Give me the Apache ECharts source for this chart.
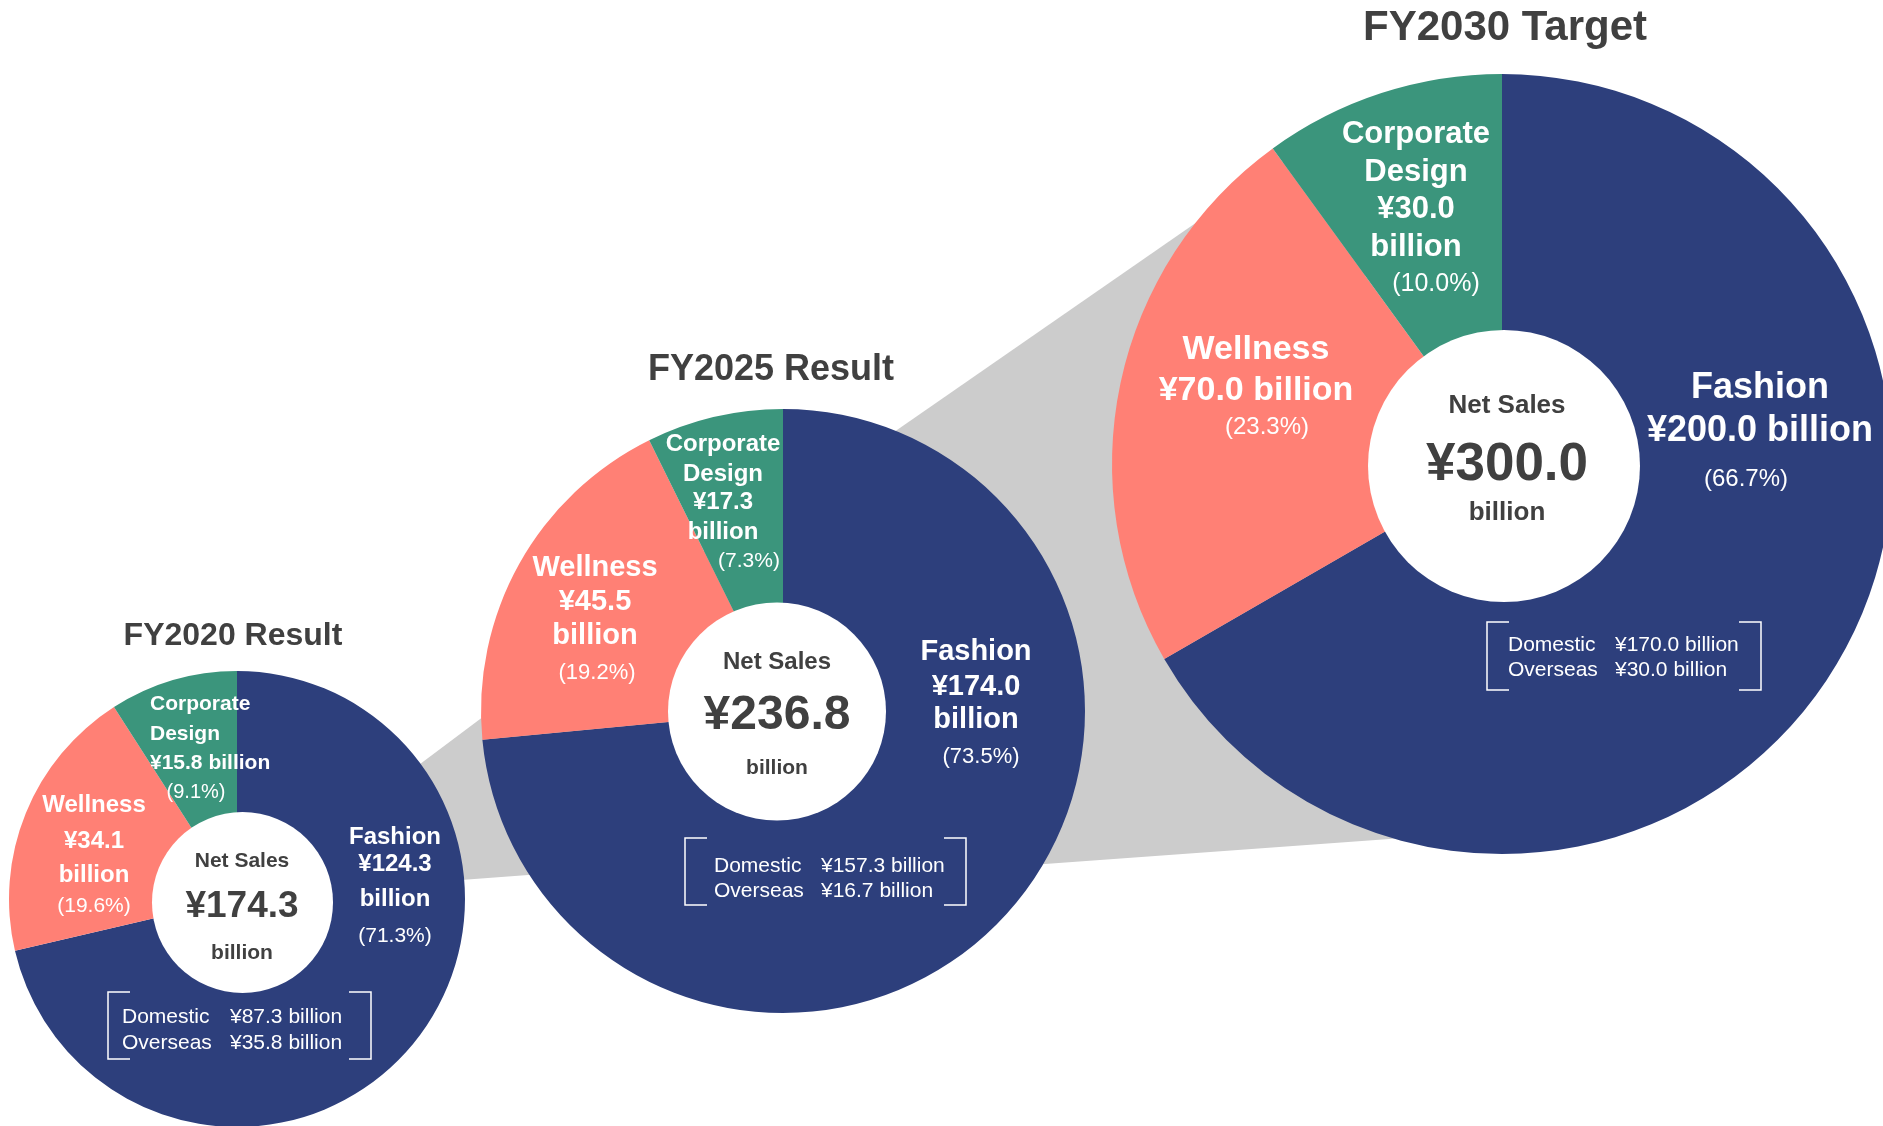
<!DOCTYPE html>
<html>
<head>
<meta charset="utf-8">
<title>Net Sales by Segment</title>
<script src="https://cdn.jsdelivr.net/npm/echarts@6.0.0/dist/echarts.min.js"></script>
<style>
  html, body { margin: 0; padding: 0; background: #fff; }
  #main { width: 1883px; height: 1126px; }
</style>
</head>
<body>
<div id="main"></div>
<script>
// data
const years = ['FY2020 Result', 'FY2025 Result', 'FY2030 Target'];
const segments = ['Fashion', 'Wellness', 'Corporate Design'];
const fy2020 = [124.3, 34.1, 15.8];
const fy2025 = [174.0, 45.5, 17.3];
const fy2030 = [200.0, 70.0, 30.0];
const pct2020 = [71.3, 19.6, 9.1];
const pct2025 = [73.5, 19.2, 7.3];
const pct2030 = [66.7, 23.3, 10.0];
const netSales = [174.3, 236.8, 300.0];
const domestic = [87.3, 157.3, 170.0];
const overseas = [35.8, 16.7, 30.0];

const values = [fy2020, fy2025, fy2030];
const pcts = [pct2020, pct2025, pct2030];

const colors = ['#2d3f7c', '#ff8075', '#3b957c'];
const dark = '#404040';
const gray = '#cccccc';
const font = "'Liberation Sans', Arial, Helvetica, sans-serif";

// layout of the three donuts (hole = white disc, slightly off centre like the original)
const pies = [
  { cx: 237, cy: 899, r: 228, r0: 83, hole: { x: 242.5, y: 902.5, r: 90.5 },
    title: { x: 233, y: 636, size: 32 },
    center: { x: 242, ys: [861, 907, 953], sizes: [21, 37, 21] },
    box: { l: 108, r: 371, t: 992, b: 1059, tx: 122, vx: 230, ys: [1017, 1043] } },
  { cx: 783, cy: 711, r: 302, r0: 102, hole: { x: 777, y: 711.5, r: 109 },
    title: { x: 771, y: 370, size: 36 },
    center: { x: 777, ys: [662, 716, 768], sizes: [24, 48, 21] },
    box: { l: 685, r: 966, t: 838, b: 905, tx: 714, vx: 821, ys: [866, 891] } },
  { cx: 1502, cy: 464, r: 390, r0: 132, hole: { x: 1504, y: 466, r: 136 },
    title: { x: 1505, y: 28, size: 42 },
    center: { x: 1507, ys: [406, 465, 513], sizes: [26, 53, 26] },
    box: { l: 1487, r: 1761, t: 622, b: 690, tx: 1508, vx: 1615, ys: [645, 670] } }
];

// segment label placement: fashion, wellness, corporate design
const labelPos = [
  [
    { x: 395, ys: [837, 864, 899], px: 395, py: 936, size: 24, pSize: 21 },
    { x: 94, ys: [805, 841, 875], px: 94, py: 906, size: 24, pSize: 21 },
    { x: 150, ys: [704, 734, 763], px: 196, py: 792, size: 21, pSize: 20, align: 'left', join: true }
  ],
  [
    { x: 976, ys: [652, 687, 720], px: 981, py: 757, size: 29, pSize: 22 },
    { x: 595, ys: [568, 602, 636], px: 597, py: 673, size: 29, pSize: 22 },
    { x: 723, ys: [444, 474, 502, 532], px: 749, py: 561, size: 24, pSize: 21 }
  ],
  [
    { x: 1760, ys: [388, 431], px: 1746, py: 479, size: 36, pSize: 24, join: true },
    { x: 1256, ys: [350, 391], px: 1267, py: 427, size: 34, pSize: 24, join: true },
    { x: 1416, ys: [134, 172, 209, 247], px: 1436, py: 284, size: 31, pSize: 25 }
  ]
];

// grey zoom bands between the donuts
const bands = [
  [[300, 854], [783, 492], [783, 856], [300, 892]],
  [[783, 509], [1350, 116], [1417, 837], [783, 883]]
];

function txt(x, y, s, size, weight, color, align) {
  return {
    type: 'text', x: x, y: y, z: 100, silent: true,
    style: {
      text: s, fill: color,
      font: weight + ' ' + size + 'px ' + font,
      textAlign: align || 'center', align: align || 'center',
      textVerticalAlign: 'middle', verticalAlign: 'middle'
    }
  };
}

function yen(v) { return '\u00a5' + v.toFixed(1); }

let elements = [];

bands.forEach(function (pts) {
  elements.push({ type: 'polygon', z: 0, silent: true, shape: { points: pts }, style: { fill: gray } });
});

pies.forEach(function (p, i) {
  elements.push(txt(p.title.x, p.title.y, years[i], p.title.size, 'bold', dark));

  // white centre disc
  elements.push({ type: 'circle', z: 50, silent: true,
    shape: { cx: p.hole.x, cy: p.hole.y, r: p.hole.r }, style: { fill: '#fff' } });

  const c = p.center;
  elements.push(txt(c.x, c.ys[0], 'Net Sales', c.sizes[0], 'bold', dark));
  elements.push(txt(c.x, c.ys[1], yen(netSales[i]), c.sizes[1], 'bold', dark));
  elements.push(txt(c.x, c.ys[2], 'billion', c.sizes[2], 'bold', dark));

  segments.forEach(function (name, j) {
    const lp = labelPos[i][j];
    const v = values[i][j];
    let lines = name.split(' ');
    lines = lines.concat(lp.join ? [yen(v) + ' billion'] : [yen(v), 'billion']);
    lines.forEach(function (s, k) {
      elements.push(txt(lp.x, lp.ys[k], s, lp.size, 'bold', '#fff', lp.align));
    });
    elements.push(txt(lp.px, lp.py, '(' + pcts[i][j].toFixed(1) + '%)', lp.pSize, 'normal', '#fff'));
  });

  // bracket with the domestic / overseas split of fashion
  const b = p.box;
  const tick = 22;
  elements.push({ type: 'polyline', z: 100, silent: true,
    shape: { points: [[b.l + tick, b.t], [b.l, b.t], [b.l, b.b], [b.l + tick, b.b]] },
    style: { stroke: '#fff', lineWidth: 1.5, fill: null } });
  elements.push({ type: 'polyline', z: 100, silent: true,
    shape: { points: [[b.r - tick, b.t], [b.r, b.t], [b.r, b.b], [b.r - tick, b.b]] },
    style: { stroke: '#fff', lineWidth: 1.5, fill: null } });
  elements.push(txt(b.tx, b.ys[0], 'Domestic', 21, 'normal', '#fff', 'left'));
  elements.push(txt(b.vx, b.ys[0], yen(domestic[i]) + ' billion', 21, 'normal', '#fff', 'left'));
  elements.push(txt(b.tx, b.ys[1], 'Overseas', 21, 'normal', '#fff', 'left'));
  elements.push(txt(b.vx, b.ys[1], yen(overseas[i]) + ' billion', 21, 'normal', '#fff', 'left'));
});

const series = pies.map(function (p, i) {
  return {
    type: 'pie',
    z: 2,
    center: [p.cx, p.cy],
    radius: [p.r0, p.r],
    startAngle: 90,
    clockwise: true,
    silent: true,
    label: { show: false },
    labelLine: { show: false },
    emphasis: { disabled: true },
    itemStyle: { borderWidth: 0 },
    data: segments.map(function (s, j) {
      return { name: s, value: values[i][j], itemStyle: { color: colors[j] } };
    })
  };
});

const myChart = echarts.init(document.getElementById('main'));
myChart.setOption({
  animation: false,
  backgroundColor: '#fff',
  graphic: { elements: elements },
  series: series
});
</script>
</body>
</html>
